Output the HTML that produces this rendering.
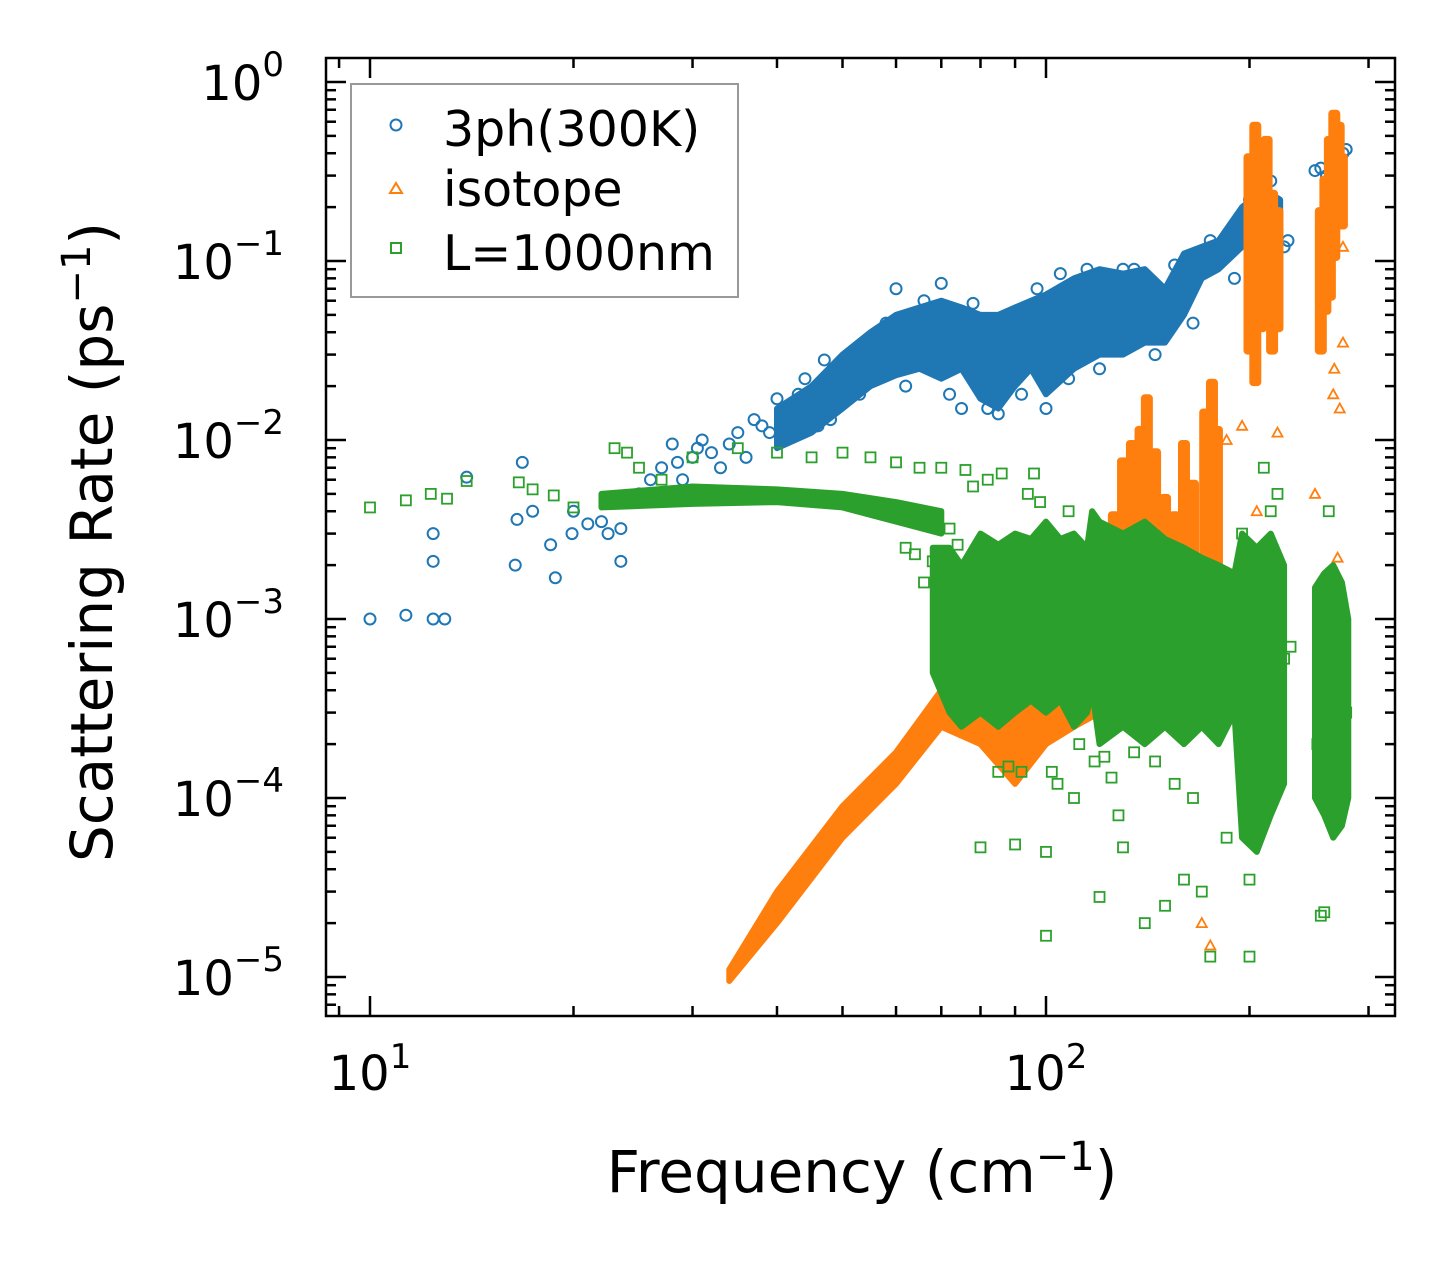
<!DOCTYPE html>
<html><head><meta charset="utf-8"><style>
body{margin:0;background:#fff;}
svg{display:block;font-family:"DejaVu Sans","Liberation Sans",sans-serif;}
</style></head><body>
<svg id="chart" width="1455" height="1265" viewBox="0 0 1455 1265">
<g id="bands"></g>
<g id="axes"></g>
<g>
<rect x="351" y="84" width="387" height="213" fill="#fff" stroke="#999" stroke-width="2"/>
<circle cx="396" cy="125" r="5.5" fill="none" stroke="#1f77b4" stroke-width="2"/>
<text x="443" y="146" font-size="49">3ph(300K)</text>
<polygon points="396,183 402,193 390,193" fill="none" stroke="#ff7f0e" stroke-width="2"/>
<text x="443" y="206" font-size="49">isotope</text>
<rect x="391" y="243" width="10" height="10" fill="none" stroke="#2ca02c" stroke-width="2"/>
<text x="443" y="270" font-size="49">L=1000nm</text>
</g>
<text x="862" y="1192" font-size="58" text-anchor="middle">Frequency (cm<tspan font-size="40" dy="-22">−1</tspan><tspan dy="22">)</tspan></text>
<text transform="translate(112,542) rotate(-90)" font-size="58" text-anchor="middle">Scattering Rate (ps<tspan font-size="40" dy="-22">−1</tspan><tspan dy="22">)</tspan></text>
</svg>
<script>
// ---- data ----
const blueBandX  =[40,45,50,55,60,65,70,75,80,85,90,95,100,110,120,130,140,150,160,170,180,195,210,222];
const blueBandLo =[9e-3,1.1e-2,1.5e-2,2e-2,2.3e-2,2.5e-2,2.2e-2,2.5e-2,1.7e-2,1.5e-2,2e-2,2.5e-2,1.8e-2,2.5e-2,3e-2,3e-2,3.5e-2,3.5e-2,5e-2,8e-2,9e-2,1.2e-1,1.6e-1,1.3e-1];
const blueBandHi =[1.5e-2,2e-2,3e-2,4e-2,5e-2,5.5e-2,6e-2,5.5e-2,5e-2,5e-2,5.5e-2,6e-2,6.5e-2,8e-2,9e-2,8.5e-2,9e-2,7e-2,1.1e-1,1.2e-1,1.3e-1,2e-1,2.5e-1,2.2e-1];
const blueX=[10,11.3,12.4,12.9,12.4,12.4,13.9,16.4,16.5,16.8,17.4,18.5,18.8,19.9,20,21,22,22.5,23.5,23.5,25,27,28,29,30,31,33,35,36,38,40,44,48,52,56,60,64,70,75,85,100,120,130,250,255,260,265,270,275,278,
  26,28.5,30.5,32,34,37,39,42,43,46,47,53,58,62,66,68,72,78,82,88,92,97,105,108,115,125,135,145,155,165,175,185,190,200,205,215,225,228];
const blueY=[1e-3,1.05e-3,1e-3,1e-3,2.1e-3,3e-3,6.2e-3,2e-3,3.6e-3,7.5e-3,4e-3,2.6e-3,1.7e-3,3e-3,4e-3,3.4e-3,3.5e-3,3e-3,2.1e-3,3.2e-3,5e-3,7e-3,9.5e-3,6e-3,8e-3,1e-2,7e-3,1.1e-2,8e-3,1.2e-2,1.7e-2,2.2e-2,1.3e-2,2.6e-2,3.6e-2,7e-2,4e-2,7.5e-2,1.5e-2,1.4e-2,1.5e-2,2.5e-2,9e-2,3.2e-1,3.3e-1,3e-1,3.5e-1,3.8e-1,4e-1,4.2e-1,
  6e-3,7.5e-3,9e-3,8.5e-3,9.5e-3,1.3e-2,1.1e-2,1.5e-2,1.8e-2,1.2e-2,2.8e-2,1.8e-2,4.5e-2,2e-2,6e-2,3.5e-2,1.8e-2,5.8e-2,1.5e-2,4e-2,1.8e-2,7e-2,8.5e-2,2.2e-2,9e-2,4.2e-2,9e-2,3e-2,9.5e-2,4.5e-2,1.3e-1,1.2e-1,8e-2,2.2e-1,1.5e-1,2.8e-1,1.2e-1,1.3e-1];
const isoBandX =[34,40,50,60,70,80,90,100,110,120];
const isoBandLo=[9.5e-6,2e-5,6e-5,1.2e-4,2.5e-4,2e-4,1.2e-4,2e-4,2.5e-4,3e-4];
const isoBandHi=[1.1e-5,3e-5,9e-5,1.8e-4,4e-4,6e-4,5e-4,8e-4,1.2e-3,2e-3];
const isoSpikeX =[126,130,134,138,141,145,150,155,160,165,172,176,179,200,204,208,212,216,220,255,259,263,267,271,274];
const isoSpikeLo=[1e-3,1.5e-3,1e-3,1.5e-3,2e-3,1e-3,1e-3,1.5e-3,2e-3,1e-3,1e-3,2e-3,1.5e-3,3e-2,2e-2,4e-2,5e-2,3e-2,4e-2,3e-2,5e-2,6e-2,1e-1,2e-1,1.5e-1];
const isoSpikeHi=[4e-3,8e-3,1e-2,1.2e-2,1.8e-2,9e-3,5e-3,4e-3,1e-2,6e-3,1.5e-2,2.2e-2,1.2e-2,4e-1,6e-1,3e-1,5e-1,2.5e-1,2e-1,2e-1,3e-1,5e-1,7e-1,6e-1,4e-1];
const isoX=[170,175,185,195,205,220,250,270,272,275,275,267,266];
const isoY=[2e-5,1.5e-5,1e-2,1.2e-2,4e-3,1.1e-2,5e-3,2.2e-3,1.5e-2,1.2e-1,3.5e-2,2.5e-2,1.8e-2];
const grnPlatX =[22,30,40,50,60,70];
const grnPlatLo=[4.2e-3,4.4e-3,4.5e-3,4.2e-3,3.5e-3,3e-3];
const grnPlatHi=[5e-3,5.5e-3,5.3e-3,5e-3,4.5e-3,4e-3];
const grnBandX =[68,72,75,80,85,90,95,100,105,110,115,117,120,130,140,150,160,170,180,190,195,205,215,225];
const grnBandLo=[5e-4,3e-4,2.5e-4,3e-4,2.5e-4,3e-4,3.5e-4,3e-4,3.5e-4,2.5e-4,3e-4,4e-4,2e-4,2.5e-4,2e-4,2.5e-4,2e-4,2.5e-4,2e-4,3e-4,6e-5,5e-5,8e-5,1.2e-4];
const grnBandHi=[2.5e-3,2.5e-3,2e-3,3e-3,2.6e-3,3e-3,2.8e-3,3.5e-3,2.8e-3,3e-3,2.5e-3,4e-3,3.5e-3,3e-3,3.5e-3,2.8e-3,2.5e-3,2.2e-3,2e-3,1.8e-3,3e-3,2.5e-3,3e-3,2e-3];
const grn2X =[250,258,266,274,280];
const grn2Lo=[1e-4,8e-5,6e-5,7e-5,1e-4];
const grn2Hi=[1.5e-3,1.8e-3,2e-3,1.6e-3,1e-3];
const grnX=[10,11.3,12.3,13,13.9,16.6,17.4,18.7,20,23,24,25,27,30,35,40,45,50,55,60,65,70,72,75,80,85,90,100,100,110,120,130,140,150,160,170,175,200,210,220,215,255,258,262,265,64,68,70,
  62,66,72,74,76,78,82,86,88,92,94,96,98,102,104,108,112,118,122,125,128,135,145,155,165,185,195,200,210,225,230,252,270,278];
const grnY=[4.2e-3,4.6e-3,5e-3,4.7e-3,5.9e-3,5.8e-3,5.3e-3,4.9e-3,4.2e-3,9e-3,8.5e-3,7e-3,6e-3,8e-3,9e-3,8.5e-3,8e-3,8.5e-3,8e-3,7.5e-3,7e-3,7e-3,9e-4,9e-4,5.3e-5,1.4e-4,5.5e-5,1.7e-5,5e-5,1e-4,2.8e-5,5.3e-5,2e-5,2.5e-5,3.5e-5,3e-5,1.3e-5,1.3e-5,7e-3,5e-3,4e-3,2.2e-5,2.3e-5,4e-3,1.8e-3,2.3e-3,2.1e-3,1.5e-3,
  2.5e-3,1.6e-3,3.2e-3,2.6e-3,6.8e-3,5.5e-3,6e-3,6.5e-3,1.5e-4,1.4e-4,5e-3,6.5e-3,4.5e-3,1.4e-4,1.2e-4,4e-3,2e-4,1.6e-4,1.7e-4,1.3e-4,8e-5,1.8e-4,1.6e-4,1.2e-4,1e-4,6e-5,3e-3,3.5e-5,1.5e-4,6e-4,7e-4,2e-4,2.5e-4,3e-4];
const xTickVals=[10,100];
const yTickExp=[0,-1,-2,-3,-4,-5];
// ---- scales ----
const X0=326,X1=1395,Y0=58,Y1=1016;
const xs=v=>370+(Math.log10(v)-1)*676;
const ys=v=>82+(-Math.log10(v))*179;
const NS="http://www.w3.org/2000/svg";
const bands=document.getElementById('bands'), axes=document.getElementById('axes');
function mk(tag,attrs,parent){const e=document.createElementNS(NS,tag);for(const k in attrs)e.setAttribute(k,attrs[k]);parent.appendChild(e);return e;}
function band(xa,lo,hi,col,name){
  let pts=xa.map((x,i)=>xs(x)+','+ys(hi[i]));
  for(let i=xa.length-1;i>=0;i--)pts.push(xs(xa[i])+','+ys(lo[i]));
  const p=mk('polygon',{points:pts.join(' '),fill:col,stroke:col,'stroke-width':6,'stroke-linejoin':'round'},bands);
  
  
}
function circ(x,y){const c=mk('circle',{cx:xs(x),cy:ys(y),r:5.5,fill:'none',stroke:'#1f77b4','stroke-width':2},bands);
  
  }
function tri(x,y){const X=xs(x),Y=ys(y);const t=mk('polygon',{points:`${X},${Y-5} ${X+5},${Y+4} ${X-5},${Y+4}`,fill:'none',stroke:'#ff7f0e','stroke-width':1.8},bands);
  
  }
function sq(x,y){const s=mk('rect',{x:xs(x)-5,y:ys(y)-5,width:10,height:10,fill:'none',stroke:'#2ca02c','stroke-width':1.8},bands);
  
  }
// blue
band(blueBandX,blueBandLo,blueBandHi,'#1f77b4','band-3ph');
blueX.forEach((x,i)=>circ(x,blueY[i]));
// orange
band(isoBandX,isoBandLo,isoBandHi,'#ff7f0e','band-isotope');
isoSpikeX.forEach((x,i)=>{const r=mk('rect',{x:xs(x)-6,y:ys(isoSpikeHi[i]),width:12,height:ys(isoSpikeLo[i])-ys(isoSpikeHi[i]),fill:'#ff7f0e',rx:4},bands);
  
  });
isoX.forEach((x,i)=>tri(x,isoY[i]));
// green
band(grnPlatX,grnPlatLo,grnPlatHi,'#2ca02c','band-boundary-plateau');
band(grnBandX,grnBandLo,grnBandHi,'#2ca02c','band-boundary-main');
band(grn2X,grn2Lo,grn2Hi,'#2ca02c','band-boundary-high');
grnX.forEach((x,i)=>sq(x,grnY[i]));
// axes frame
const fr=mk('rect',{x:X0,y:Y0,width:X1-X0,height:Y1-Y0,fill:'none',stroke:'#000','stroke-width':2.5},axes);


// x ticks
for(let d=0;d<3;d++)for(let m=1;m<10;m++){const v=m*Math.pow(10,d);const X=xs(v);if(X<X0||X>X1)continue;const L=m===1?20:10;
  mk('line',{x1:X,y1:Y1,x2:X,y2:Y1-L,stroke:'#000','stroke-width':2.5},axes);
  mk('line',{x1:X,y1:Y0,x2:X,y2:Y0+L,stroke:'#000','stroke-width':2.5},axes);}
xTickVals.forEach(v=>{const t=mk('text',{x:xs(v),y:1090,'font-size':48,'text-anchor':'middle'},axes);
  
  
  t.innerHTML='10<tspan font-size="34" dy="-22">'+Math.log10(v)+'</tspan>';});
// y ticks
for(let e=-6;e<=0;e++)for(let m=1;m<10;m++){const v=m*Math.pow(10,e);const Y=ys(v);if(Y<Y0||Y>Y1)continue;const L=m===1?20:10;
  mk('line',{x1:X0,y1:Y,x2:X0+L,y2:Y,stroke:'#000','stroke-width':2.5},axes);
  mk('line',{x1:X1,y1:Y,x2:X1-L,y2:Y,stroke:'#000','stroke-width':2.5},axes);}
yTickExp.forEach(e=>{const t=mk('text',{x:284,y:ys(Math.pow(10,e))+18,'font-size':48,'text-anchor':'end'},axes);
  
  
  t.innerHTML='10<tspan font-size="34" dy="-24">'+(e===0?'0':'−'+(-e))+'</tspan>';});
</script>
</body></html>
